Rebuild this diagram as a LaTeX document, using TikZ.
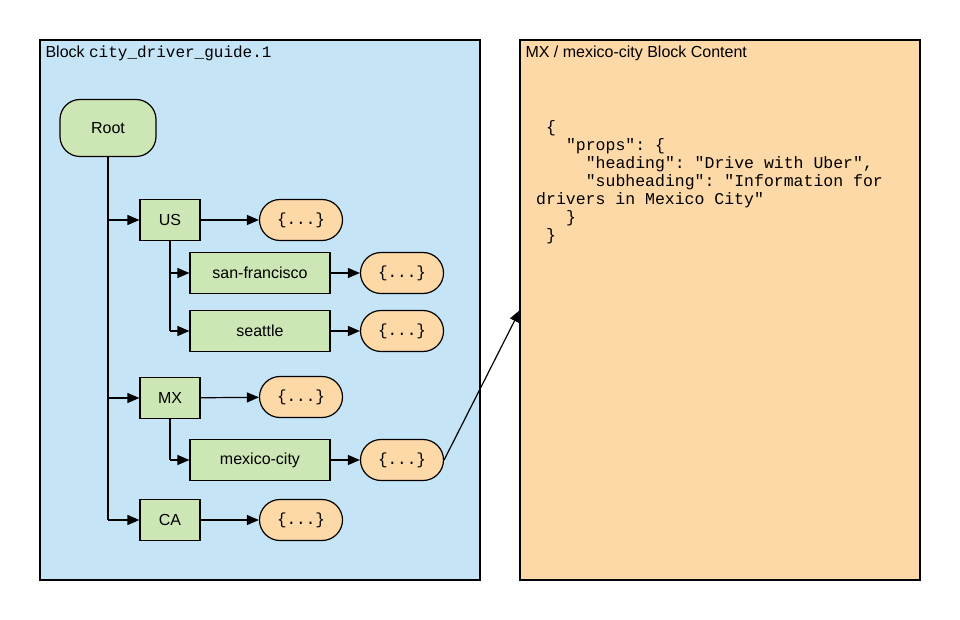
\documentclass[tikz,border=0pt]{standalone}
\usepackage{fontspec}
\setmainfont{Liberation Sans}
\setmonofont{Liberation Mono}
\usetikzlibrary{arrows.meta,shapes.misc}
\definecolor{pblue}{HTML}{C5E4F6}
\definecolor{porange}{HTML}{FDD9A8}
\definecolor{pgreen}{HTML}{CDE6B5}
\begin{document}
\begin{tikzpicture}[x=1pt,y=-1pt,
 panel/.style={draw=black,line width=1.5pt},
 box/.style={draw=black,fill=pgreen,line width=1.2pt,minimum height=41pt,inner sep=0pt,font=\fontsize{16}{18}\selectfont},
 obj/.style={draw=black,fill=porange,line width=1.2pt,rounded rectangle,minimum width=83pt,minimum height=41pt,inner sep=0pt,font=\ttfamily\fontsize{16}{18}\selectfont},
 arr/.style={-{Triangle[length=12pt,width=10pt]},line width=1.2pt},
 ln/.style={line width=1.2pt}]
\useasboundingbox (0,0) rectangle (960,620);
\draw[panel,fill=pblue] (40,40) rectangle (480,580);
\draw[panel,fill=porange] (520,40) rectangle (920,580);
\node[anchor=west,font=\fontsize{16}{18}\selectfont] (t1) at (42,53) {Block \texttt{city\_driver\_guide.1}};
\node[anchor=west,font=\fontsize{16}{18}\selectfont] (t2) at (522,53) {MX / mexico-city Block Content};
\node[anchor=north west,align=left,inner sep=0pt,font=\ttfamily\fontsize{16.5}{18}\selectfont] (json) at (546,120)
 {\{\\
 \ \ "props": \{\\
 \ \ \ \ "heading": "Drive with Uber",\\
 \ \ \ \ "subheading": "Information for\\
 \hspace*{-10pt}drivers in Mexico City"\\
 \ \ \}\\
 \}};
\node[box,rounded corners=20pt,minimum width=96pt,minimum height=57pt] (root) at (108,128) {Root};
\node[box,minimum width=60pt] (us) at (170,220) {US};
\node[obj] (o1) at (301,220) {\{...\}};
\node[box,minimum width=140pt] (sf) at (260,273) {san-francisco};
\node[obj] (o2) at (402,273) {\{...\}};
\node[box,minimum width=140pt] (se) at (260,331) {seattle};
\node[obj] (o3) at (402,331) {\{...\}};
\node[box,minimum width=60pt] (mx) at (170,398) {MX};
\node[obj] (o4) at (301,397) {\{...\}};
\node[box,minimum width=140pt] (mc) at (260,460) {mexico-city};
\node[obj] (o5) at (402,460) {\{...\}};
\node[box,minimum width=60pt] (ca) at (170,520) {CA};
\node[obj] (o6) at (301,520) {\{...\}};
\coordinate (tgt) at (520,310);
\draw[ln] (root.south) -- (108,520);
\draw[arr] (108,220) -- (us.west);
\draw[arr] (108,398) -- (mx.west);
\draw[arr] (108,520) -- (ca.west);
\draw[ln] (us.south) -- (170,331);
\draw[arr] (170,273) -- (sf.west);
\draw[arr] (170,331) -- (se.west);
\draw[ln] (mx.south) -- (170,460);
\draw[arr] (170,460) -- (mc.west);
\draw[arr] (us) -- (o1);
\draw[arr] (sf) -- (o2);
\draw[arr] (se) -- (o3);
\draw[arr] (mx) -- (o4);
\draw[arr] (mc) -- (o5);
\draw[arr] (ca) -- (o6);
\draw[arr] (o5.east) -- (tgt);
\end{tikzpicture}
\end{document}
